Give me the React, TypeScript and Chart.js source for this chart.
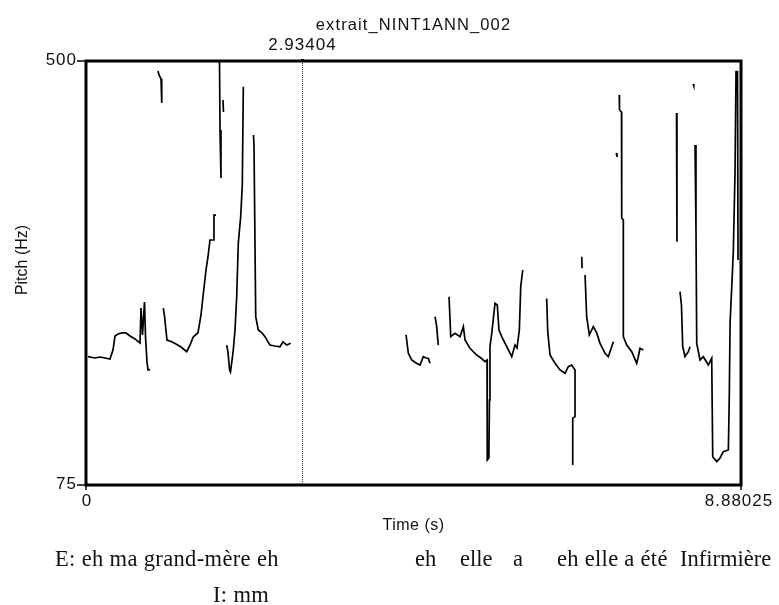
import React, { useEffect, useRef } from "react";
import { Chart, registerables } from "chart.js";

Chart.register(...registerables);

// ---- data (time in s, pitch in Hz) ----
const chartTitle = "extrait_NINT1ANN_002";
const timeMin = 0;
const timeMax = 8.88025;
const pitchMin = 75;
const pitchMax = 500;
const cursorTime = 2.93404;
const xTickLabels = ["0", "8.88025"];
const yTickLabels = ["500", "75"];
const xAxisTitle = "Time (s)";
const yAxisTitle = "Pitch (Hz)";

const seg01: [number, number][] = [[0.027,203.6],[0.122,202.3],[0.190,203.3],[0.258,202.3],[0.325,201.3],[0.366,210.3],[0.393,224.4],[0.434,226.4],[0.488,227.4],[0.542,227.4],[0.597,224.4],[0.664,221.4],[0.732,217.3],[0.746,252.4],[0.766,225.4],[0.793,258.4],[0.807,223.3],[0.827,198.3],[0.841,190.3],[0.868,190.3]];
const seg02: [number, number][] = [[0.976,490],[0.990,486],[1.017,482],[1.024,471],[1.030,458]];
const seg03: [number, number][] = [[1.048,252.4],[1.064,244.4],[1.098,220.3],[1.162,218.6],[1.220,216.3],[1.288,213.3],[1.365,208.6],[1.410,215.3],[1.455,223.6],[1.518,227.4],[1.559,245.4],[1.586,263.7],[1.627,290.5],[1.654,303.8],[1.681,320.6],[1.726,320.6],[1.735,345.6],[1.763,345.6]];
const seg04: [number, number][] = [[1.810,499.5],[1.817,430.8],[1.830,382.7]];
const seg05: [number, number][] = [[1.857,460.9],[1.864,448.9]];
const seg06: [number, number][] = [[1.908,215.3],[1.925,208.3],[1.946,190.3],[1.959,188.3],[1.980,200.3],[1.997,210.3],[2.020,230.4],[2.043,263.7],[2.065,317.6],[2.097,343.9],[2.119,375.7],[2.133,474.3]];
const seg07: [number, number][] = [[2.271,425.8],[2.278,413.8],[2.301,243.7],[2.336,230.4],[2.386,227.4],[2.427,223.7],[2.468,218.3],[2.495,215.3],[2.563,214.3],[2.630,213.6],[2.671,218.6],[2.721,215.3],[2.775,217.0]];
const seg08: [number, number][] = [[4.339,225.4],[4.370,207.0],[4.416,200.3],[4.474,197.3],[4.528,195.3],[4.573,203.6],[4.610,202.3],[4.641,202.0],[4.664,197.0]];
const seg09: [number, number][] = [[4.732,243.7],[4.752,235.4],[4.776,215.3]];
const seg10: [number, number][] = [[4.922,263.7],[4.945,223.7],[5.003,227.1],[5.071,223.7],[5.116,233.7],[5.139,220.3],[5.206,212.0],[5.297,205.3],[5.355,202.3],[5.410,198.6],[5.437,200.3],[5.440,100.0],[5.462,102.0],[5.470,160.0],[5.477,213.6],[5.501,227.1],[5.545,257.1],[5.576,255.4],[5.599,230.4],[5.636,223.7],[5.704,213.6],[5.772,203.6],[5.816,215.3],[5.844,212.3],[5.875,230.4],[5.894,273.8],[5.921,290.5]];
const seg11: [number, number][] = [[6.246,262.0],[6.260,228.7],[6.291,205.3],[6.359,197.0],[6.427,190.3],[6.495,187.0],[6.539,193.6],[6.585,195.3],[6.630,190.3],[6.630,143.5],[6.599,142.0],[6.599,95.0]];
const seg12: [number, number][] = [[6.721,303.8],[6.725,292.2]];
const seg13: [number, number][] = [[6.766,285.5],[6.788,243.7],[6.824,225.4],[6.878,233.7],[6.924,227.4],[6.969,217.0],[7.037,207.0],[7.081,203.6],[7.127,213.6],[7.149,218.6]];
const seg14: [number, number][] = [[7.190,407.8],[7.199,403.8]];
const seg15: [number, number][] = [[7.230,465.9],[7.233,450.9],[7.260,448.9],[7.263,342.6],[7.285,340.6],[7.285,223.7],[7.331,215.3],[7.399,208.6],[7.466,197.0],[7.484,202.3],[7.511,212.0],[7.556,210.3]];
const seg16: [number, number][] = [[8.006,447.9],[8.012,318.9]];
const seg17: [number, number][] = [[8.053,268.8],[8.073,255.4],[8.090,213.6],[8.121,203.6],[8.166,208.6],[8.189,213.6]];
const seg18: [number, number][] = [[8.230,477.0],[8.240,475.0]];
const seg19: [number, number][] = [[8.257,415.8],[8.270,330.6],[8.280,217.0],[8.325,200.3],[8.369,203.6],[8.437,195.3],[8.483,202.0],[8.497,103.4],[8.551,98.4],[8.596,102.1],[8.641,108.4],[8.709,110.1],[8.722,166.9],[8.732,237.1],[8.755,273.8],[8.776,308.9],[8.799,387.4],[8.813,489.3],[8.833,489.3],[8.840,300.5]];

const contourSegments = [seg01, seg02, seg03, seg04, seg05, seg06, seg07, seg08, seg09, seg10, seg11, seg12, seg13, seg14, seg15, seg16, seg17, seg18, seg19];

// transcript words
const transcriptWords = ["E: eh ma grand-mère eh", "I: mm", "eh", "elle", "a", "eh elle a été", "Infirmière"];

// ---- layout (not data) ----
const W = 779;
const H = 605;
const transcriptLayout = [
  { x: 55, y: 566, spacing: 0.35 },
  { x: 213, y: 602, spacing: 0.35 },
  { x: 415, y: 566, spacing: 0 },
  { x: 460, y: 566, spacing: 0 },
  { x: 513, y: 566, spacing: 0 },
  { x: 557, y: 566, spacing: 0.3 },
  { x: 680, y: 566, spacing: 0 },
];

const SANS = '"Liberation Sans", Arial, sans-serif';
const SERIF = '"Liberation Serif", "Times New Roman", serif';

const praatPlugin = {
  id: "praatDecor",
  beforeDatasetsDraw(chart: any) {
    const { ctx, chartArea, scales } = chart;
    const cx = Math.round(scales.x.getPixelForValue(cursorTime)) + 0.5;
    ctx.save();
    ctx.strokeStyle = "#333";
    ctx.lineWidth = 1;
    ctx.setLineDash([1, 1]);
    ctx.beginPath();
    ctx.moveTo(cx, chartArea.top);
    ctx.lineTo(cx, chartArea.bottom);
    ctx.stroke();
    ctx.restore();
  },
  afterDraw(chart: any) {
    const { ctx, chartArea, scales } = chart;
    const { left, right, top, bottom } = chartArea;
    ctx.save();
    // frame
    ctx.strokeStyle = "#000";
    ctx.lineWidth = 3;
    ctx.setLineDash([]);
    ctx.strokeRect(left, top, right - left, bottom - top);

    // y ticks
    ctx.lineWidth = 1.5;
    const yVals = [pitchMax, pitchMin];
    yVals.forEach((v) => {
      const y = scales.y.getPixelForValue(v);
      ctx.beginPath();
      ctx.moveTo(left - 9, y);
      ctx.lineTo(left, y);
      ctx.stroke();
    });
    // x ticks
    const xVals = [timeMin, timeMax];
    xVals.forEach((v) => {
      const x = scales.x.getPixelForValue(v);
      ctx.beginPath();
      ctx.moveTo(x, bottom);
      ctx.lineTo(x, bottom + 5);
      ctx.stroke();
    });
    // cursor marker at top
    const cx = scales.x.getPixelForValue(cursorTime);
    ctx.fillStyle = "#000";
    ctx.fillRect(cx - 1.5, top - 2, 3, 3);

    ctx.fillStyle = "#111";
    (ctx as any).letterSpacing = "1px";
    ctx.font = `17px ${SANS}`;
    // y tick labels
    ctx.textAlign = "right";
    ctx.textBaseline = "middle";
    yVals.forEach((v, i) => {
      ctx.fillText(yTickLabels[i], left - 9, scales.y.getPixelForValue(v) - 1);
    });
    // x tick labels
    ctx.textAlign = "center";
    ctx.textBaseline = "top";
    xVals.forEach((v, i) => {
      ctx.fillText(xTickLabels[i], scales.x.getPixelForValue(v) + (i === 1 ? -2 : 1), bottom + 8);
    });
    // cursor label
    ctx.textBaseline = "alphabetic";
    ctx.fillText(cursorTime.toFixed(5), cx, top - 11);

    // title
    (ctx as any).letterSpacing = "1.1px";
    ctx.font = `16.5px ${SANS}`;
    ctx.fillText(chartTitle, (left + right) / 2, 29.5);

    // axis titles
    (ctx as any).letterSpacing = "0.5px";
    ctx.font = `16px ${SANS}`;
    ctx.fillText(xAxisTitle, (left + right) / 2, 530);
    ctx.save();
    ctx.translate(27, 260);
    ctx.rotate(-Math.PI / 2);
    ctx.textAlign = "center";
    ctx.textBaseline = "alphabetic";
    (ctx as any).letterSpacing = "0px";
    ctx.fillText(yAxisTitle, 0, 0);
    ctx.restore();

    // transcript
    ctx.font = `22.5px ${SERIF}`;
    ctx.textAlign = "left";
    ctx.textBaseline = "alphabetic";
    ctx.fillStyle = "#111";
    transcriptWords.forEach((w, i) => {
      const p = transcriptLayout[i];
      (ctx as any).letterSpacing = `${p.spacing}px`;
      ctx.fillText(w, p.x, p.y);
    });
    ctx.restore();
  },
};

export default function App() {
  const canvasRef = useRef<HTMLCanvasElement | null>(null);

  useEffect(() => {
    document.body.style.margin = "0";
    const canvas = canvasRef.current;
    if (!canvas) return;
    const chart = new Chart(canvas, {
      type: "line",
      data: {
        datasets: contourSegments.map((seg, i) => ({
          label: `segment ${i + 1}`,
          data: seg.map(([t, f]) => ({ x: t, y: f })),
          borderColor: "#000",
          borderWidth: 1.7,
          pointRadius: 0,
          tension: 0,
          fill: false,
        })),
      },
      options: {
        animation: false,
        responsive: false,
        devicePixelRatio: 1,
        layout: { padding: { left: 86, top: 61, right: 38, bottom: 120 } },
        plugins: {
          legend: { display: false },
          title: { display: false },
          tooltip: { enabled: false },
        },
        scales: {
          x: { type: "linear", min: timeMin, max: timeMax, display: false },
          y: { type: "linear", min: pitchMin, max: pitchMax, display: false },
        },
      },
      plugins: [praatPlugin],
    });
    return () => chart.destroy();
  }, []);

  return (
    <div style={{ position: "absolute", left: 0, top: 0, width: W, height: H, background: "#fff" }}>
      <canvas ref={canvasRef} width={W} height={H} style={{ width: W, height: H, display: "block" }} />
    </div>
  );
}
